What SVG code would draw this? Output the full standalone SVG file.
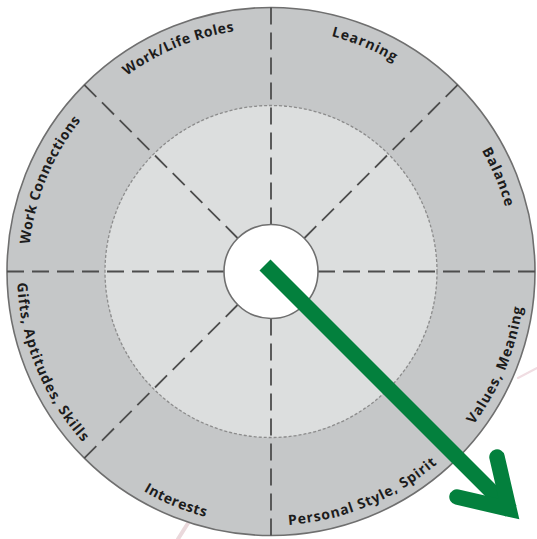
<svg xmlns="http://www.w3.org/2000/svg" width="537" height="539" viewBox="0 0 537 539">
  <style>
    .lbl { font-family: "Open Sans", "Liberation Sans", sans-serif; font-weight: 700; font-size: 14px; fill: #1c1c1c; }
    .spoke { stroke: #4d4d4d; stroke-width: 1.8; stroke-dasharray: 17 8; fill: none; }
    .arrow { stroke: #03803d; stroke-width: 15.5; fill: none; }
  </style>
  <defs>
    <path id="pWC" d="M39.2,344.6 A243,243 0 0 1 158.8,56"/>
    <path id="pWLR" d="M55.5,159.3 A243,243 0 0 1 344.1,39.7"/>
    <path id="pL" d="M197.9,39.7 A243,243 0 0 1 486.5,159.3"/>
    <path id="pB" d="M383.2,56 A243,243 0 0 1 502.8,344.6"/>
    <path id="pVM" d="M388.3,496.8 A254,254 0 0 0 513.2,195.1"/>
    <path id="pPSS" d="M194.6,513.7 A254,254 0 0 0 496.3,388.8"/>
    <path id="pI" d="M45.7,388.8 A254,254 0 0 0 347.4,513.7"/>
    <path id="pG" d="M28.8,195.1 A254,254 0 0 0 153.7,496.8"/>
  </defs>
  <rect width="537" height="539" fill="#ffffff"/>
  <g id="background-marks" fill="none" stroke-linecap="round">
    <path d="M178,539 L190,520" stroke="#ead9dc" stroke-width="4"/>
    <path d="M518,378 L537,368" stroke="#f0dde2" stroke-width="2"/>
  </g>
  <g id="wheel">
    <circle cx="271" cy="271.5" r="264" fill="#c5c7c8" stroke="#6f6f6f" stroke-width="1.6"/>
    <circle cx="271" cy="271.5" r="166" fill="#dcdede" stroke="#8c8c8c" stroke-width="1.3" stroke-dasharray="3 2"/>
  </g>
  <g id="connectors">
    <path class="spoke" d="M535,271.5 L318,271.5"/>
    <path class="spoke" d="M271,535.5 L271,318.5"/>
    <path class="spoke" d="M7,271.5 L224,271.5"/>
    <path class="spoke" d="M271,7.5 L271,224.5"/>
    <path class="spoke" d="M457.7,458.2 L304.2,304.7"/>
    <path class="spoke" d="M84.3,458.2 L237.8,304.7"/>
    <path class="spoke" d="M84.3,84.8 L237.8,238.3"/>
    <path class="spoke" d="M457.7,84.8 L304.2,238.3"/>
  </g>
  <g id="hub">
    <circle cx="271" cy="271.5" r="47" fill="#ffffff" stroke="#6f6f6f" stroke-width="1.6"/>
  </g>
  <g id="work-connections"><text class="lbl" letter-spacing="0.55"><textPath href="#pWC" startOffset="50%" text-anchor="middle">Work Connections</textPath></text></g>
  <g id="work-life-roles"><text class="lbl" letter-spacing="0.5"><textPath href="#pWLR" startOffset="50%" text-anchor="middle">Work/Life Roles</textPath></text></g>
  <g id="learning"><text class="lbl" letter-spacing="0.9"><textPath href="#pL" startOffset="50%" text-anchor="middle">Learning</textPath></text></g>
  <g id="balance"><text class="lbl" letter-spacing="1"><textPath href="#pB" startOffset="50%" text-anchor="middle">Balance</textPath></text></g>
  <g id="values-meaning"><text class="lbl" letter-spacing="1"><textPath href="#pVM" startOffset="50%" text-anchor="middle">Values, Meaning</textPath></text></g>
  <g id="personal-style-spirit"><text class="lbl" letter-spacing="0.9"><textPath href="#pPSS" startOffset="50%" text-anchor="middle">Personal Style, Spirit</textPath></text></g>
  <g id="interests"><text class="lbl" letter-spacing="0.55"><textPath href="#pI" startOffset="50%" text-anchor="middle">Interests</textPath></text></g>
  <g id="gifts-aptitudes-skills"><text class="lbl" letter-spacing="1"><textPath href="#pG" startOffset="50%" text-anchor="middle">Gifts, Aptitudes, Skills</textPath></text></g>
  <g id="arrow">
    <path class="arrow" d="M265,265 L511,511" stroke-linecap="butt"/>
    <path class="arrow" d="M497,457 L509,509 L457,497" stroke-linecap="round" stroke-linejoin="miter" stroke-miterlimit="10"/>
  </g>
</svg>
